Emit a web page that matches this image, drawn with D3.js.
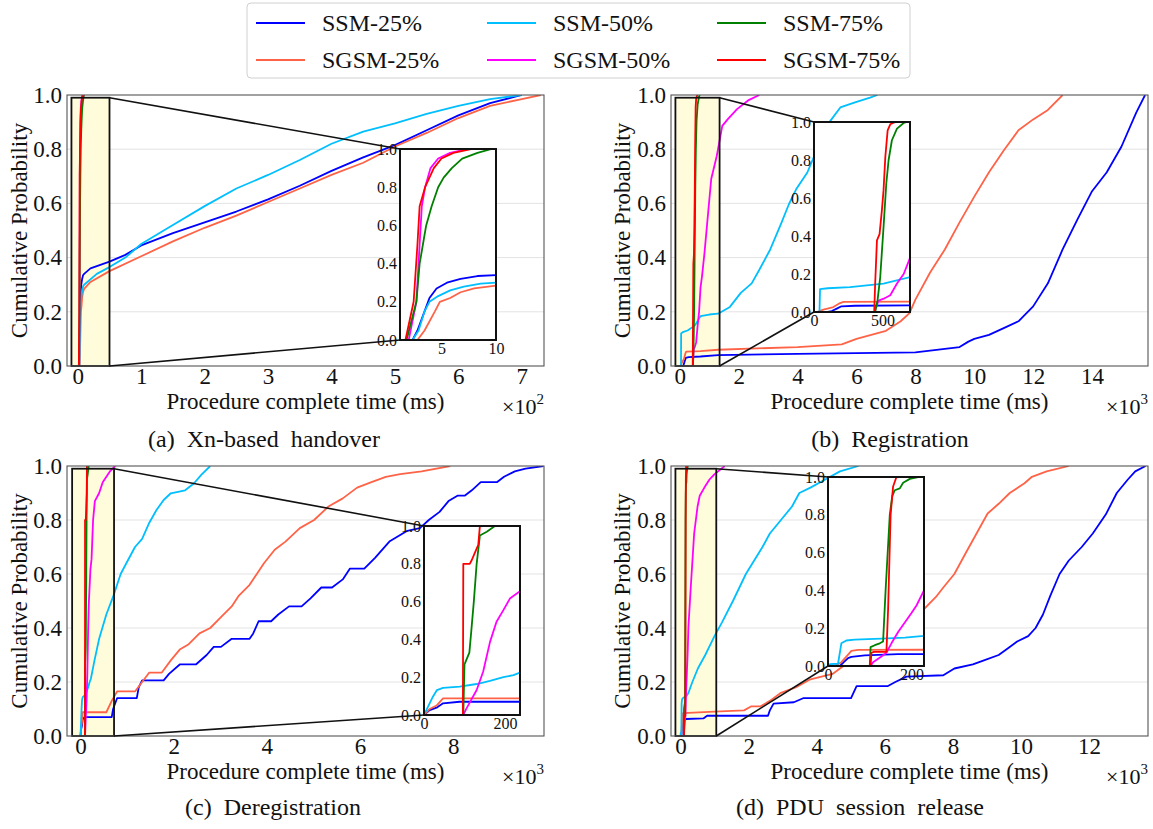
<!DOCTYPE html>
<html><head><meta charset="utf-8">
<script src="https://cdn.jsdelivr.net/npm/d3@7"></script>
</head><body style="margin:0;background:#fff">
<svg id="fig" width="1153" height="829" style="display:block;font-family:'Liberation Serif'"></svg>
<script>
// ---- series ----
const seriesNames = ["SSM-25%", "SSM-50%", "SSM-75%", "SGSM-25%", "SGSM-50%", "SGSM-75%"];
const seriesColors = ["#0000ff", "#00bfff", "#008000", "#ff6347", "#ff00ff", "#ff0000"];
const drawOrder = [0, 3, 1, 4, 2, 5];
const probTicks = [0, 0.2, 0.4, 0.6, 0.8, 1.0];

// ---- (a) Xn-based handover: [time ms, cumulative probability] ----
const aSSM25 = [[2.35,0],[2.8,0.05],[3.45,0.15],[3.9,0.22],[4.55,0.27],[5.5,0.3],[6.75,0.32],[8.3,0.335],[10,0.34],[20,0.36],[50,0.385],[75,0.41],[100,0.445],[150,0.49],[200,0.53],[250,0.57],[300,0.615],[350,0.665],[400,0.72],[450,0.77],[500,0.815],[550,0.87],[600,0.925],[650,0.97],[700,1.0]];
const aSSM50 = [[2.35,0],[2.9,0.05],[3.45,0.15],[3.9,0.2],[4.7,0.23],[5.8,0.26],[7.05,0.28],[8.6,0.295],[10,0.3],[30,0.34],[50,0.365],[75,0.4],[100,0.45],[150,0.52],[200,0.59],[250,0.655],[300,0.705],[350,0.76],[400,0.82],[450,0.865],[500,0.895],[550,0.93],[600,0.96],[650,0.985],[700,1.0]];
const aSSM75 = [[1.8,0],[2.7,0.2],[3.0,0.4],[3.3,0.5],[3.6,0.6],[4.1,0.7],[4.7,0.8],[5.2,0.85],[5.95,0.9],[6.9,0.95],[8.3,0.98],[9.6,1.0]];
const aSGSM25 = [[2.8,0],[3.45,0.05],[4.4,0.15],[4.85,0.2],[5.8,0.22],[6.75,0.25],[8,0.27],[10,0.285],[20,0.31],[50,0.35],[100,0.405],[150,0.46],[200,0.51],[250,0.555],[300,0.605],[350,0.655],[400,0.705],[450,0.75],[500,0.81],[550,0.86],[600,0.915],[650,0.96],[700,0.985],[730,1.0]];
const aSGSM50 = [[2.0,0],[2.7,0.2],[3.0,0.5],[3.2,0.7],[3.5,0.8],[4.0,0.9],[4.7,0.95],[5.8,0.98],[7.4,1.0],[10.5,1.0]];
const aSGSM75 = [[1.7,0],[2.45,0.2],[2.8,0.5],[3.0,0.7],[3.5,0.8],[4.3,0.9],[5.0,0.95],[6.1,0.98],[7.7,1.0],[10.5,1.0]];

// ---- (b) Registration ----
const bSSM25 = [[100,0],[130,0.005],[166,0.018],[200,0.03],[300,0.033],[700,0.035],[1300,0.04],[4000,0.045],[8000,0.05],[9500,0.07],[9800,0.09],[10000,0.1],[10500,0.115],[11000,0.14],[11500,0.165],[12000,0.22],[12500,0.305],[13000,0.43],[13500,0.54],[14000,0.645],[14500,0.715],[15000,0.81],[15500,0.935],[15800,1.0]];
const bSSM50 = [[40,0],[44,0.12],[100,0.125],[263,0.131],[507,0.149],[703,0.184],[1000,0.19],[1300,0.193],[1700,0.218],[2070,0.27],[2440,0.305],[2700,0.355],[3070,0.43],[3450,0.528],[3700,0.596],[3950,0.652],[4330,0.714],[4700,0.81],[5080,0.9],[5450,0.954],[5950,0.973],[6460,0.99],[6710,1.0]];
const bSSM75 = [[446,0],[463,0.06],[483,0.184],[507,0.447],[527,0.675],[544,0.8],[568,0.904],[605,0.965],[654,0.995],[678,1.0]];
const bSGSM25 = [[20,0],[68,0.012],[141,0.026],[190,0.047],[215,0.053],[700,0.055],[1300,0.06],[4000,0.07],[5500,0.08],[6000,0.1],[7000,0.13],[7500,0.165],[7800,0.195],[8000,0.245],[8500,0.345],[9000,0.43],[9500,0.53],[10000,0.625],[10500,0.715],[11000,0.795],[11500,0.87],[12000,0.91],[12500,0.945],[13000,1.0]];
const bSGSM50 = [[440,0],[446,0.012],[471,0.06],[508,0.07],[556,0.088],[605,0.15],[654,0.2],[703,0.29],[752,0.33],[840,0.42],[940,0.54],[1066,0.69],[1254,0.775],[1442,0.886],[1630,0.911],[1943,0.948],[2319,0.98],[2700,1.0]];
const bSGSM75 = [[439,0],[446,0.149],[459,0.377],[478,0.41],[495,0.535],[507,0.64],[520,0.816],[537,0.956],[556,0.988],[593,1.0]];

// ---- (c) Deregistration ----
const cSSM25 = [[0,0],[14,0.026],[31,0.039],[47,0.062],[88,0.07],[670,0.07],[700,0.1],[785,0.14],[1208,0.14],[1250,0.18],[1323,0.206],[1785,0.206],[1900,0.23],[2130,0.265],[2477,0.265],[2708,0.3],[2860,0.33],[3015,0.33],[3246,0.36],[3630,0.36],[3708,0.38],[3823,0.425],[4092,0.425],[4246,0.45],[4477,0.48],[4746,0.48],[4938,0.51],[5169,0.55],[5400,0.55],[5630,0.58],[5785,0.62],[6092,0.62],[6323,0.66],[6630,0.72],[7015,0.76],[7285,0.77],[7477,0.8],[7708,0.83],[7900,0.87],[8092,0.89],[8246,0.89],[8400,0.91],[8592,0.94],[8938,0.94],[9092,0.96],[9323,0.98],[9554,0.99],[9938,1.0]];
const cSSM50 = [[0,0],[10,0.044],[22,0.097],[32,0.132],[47,0.144],[88,0.15],[130,0.164],[163,0.18],[196,0.2],[221,0.211],[237,0.225],[300,0.28],[400,0.36],[554,0.45],[708,0.52],[862,0.6],[1015,0.65],[1170,0.7],[1323,0.73],[1477,0.79],[1631,0.837],[1785,0.874],[1938,0.899],[2246,0.91],[2438,0.936],[2592,0.967],[2785,1.0]];
const cSSM75 = [[97,0],[100,0.27],[101,0.273],[112,0.33],[117,0.45],[123,0.6],[130,0.8],[138,0.95],[155,0.97],[175,1.0]];
const cSGSM25 = [[0,0],[14,0.032],[31,0.05],[47,0.088],[554,0.088],[670,0.13],[785,0.165],[1170,0.165],[1323,0.2],[1477,0.235],[1746,0.235],[1938,0.28],[2130,0.32],[2323,0.34],[2554,0.38],[2785,0.4],[3015,0.44],[3246,0.48],[3400,0.52],[3630,0.56],[3785,0.6],[3938,0.64],[4169,0.69],[4400,0.72],[4708,0.77],[5015,0.8],[5323,0.85],[5630,0.88],[5938,0.92],[6246,0.94],[6554,0.96],[6862,0.97],[7323,0.98],[7938,1.0]];
const cSGSM50 = [[97,0],[105,0.035],[130,0.132],[146,0.229],[163,0.387],[179,0.493],[196,0.555],[212,0.616],[237,0.655],[270,0.8],[308,0.87],[400,0.9],[477,0.94],[630,0.98],[746,1.0]];
const cSGSM75 = [[96,0],[97,0.8],[113,0.8],[118,0.82],[126,0.86],[134,0.9],[138,1.0]];

// ---- (d) PDU session release ----
const dSSM25 = [[28,0],[36,0.016],[48,0.042],[56,0.048],[88,0.056],[168,0.063],[672,0.065],[780,0.075],[2569,0.075],[2623,0.095],[2732,0.12],[3328,0.125],[3600,0.14],[5008,0.14],[5171,0.185],[6092,0.185],[6309,0.2],[6634,0.22],[7718,0.225],[8043,0.25],[8586,0.265],[8911,0.28],[9344,0.3],[9669,0.33],[9886,0.35],[10211,0.37],[10428,0.4],[10645,0.45],[10862,0.52],[11133,0.6],[11404,0.65],[11783,0.7],[12108,0.75],[12488,0.82],[12813,0.9],[13138,0.95],[13355,0.98],[13659,1.0]];
const dSSM50 = [[0,0],[5,0.01],[24,0.012],[32,0.12],[44,0.135],[64,0.14],[128,0.145],[184,0.15],[230,0.159],[347,0.2],[509,0.25],[726,0.3],[997,0.37],[1214,0.42],[1539,0.5],[1919,0.6],[2407,0.7],[2623,0.75],[2949,0.8],[3274,0.85],[3490,0.9],[3816,0.92],[4249,0.95],[4683,0.98],[5225,1.0]];
const dSSM75 = [[100,0],[102,0.1],[112,0.11],[124,0.12],[132,0.13],[138,0.4],[148,0.8],[154,0.9],[160,0.93],[172,0.94],[180,0.97],[196,0.99],[216,1.0]];
const dSGSM25 = [[16,0],[32,0.02],[44,0.05],[56,0.08],[72,0.085],[997,0.09],[1865,0.095],[2081,0.11],[2352,0.11],[2623,0.13],[2949,0.16],[3382,0.18],[3816,0.21],[4466,0.23],[4900,0.27],[5225,0.3],[6000,0.36],[6500,0.41],[7122,0.466],[7501,0.515],[7718,0.55],[8043,0.6],[8369,0.676],[8694,0.75],[9019,0.824],[9344,0.86],[9669,0.9],[10103,0.936],[10320,0.96],[10753,0.98],[11404,1.0]];
const dSGSM50 = [[102,0],[108,0.02],[128,0.05],[140,0.07],[152,0.12],[168,0.18],[184,0.23],[200,0.28],[212,0.32],[230,0.4],[300,0.55],[400,0.75],[500,0.85],[564,0.89],[700,0.92],[850,0.95],[1000,0.97],[1300,1.0]];
const dSGSM75 = [[102,0],[104,0.07],[110,0.075],[140,0.075],[144,0.3],[150,0.8],[156,0.95],[164,1.0]];

// ---- tick values ----
const handoverTicks = [0, 100, 200, 300, 400, 500, 600, 700];
const registrationTicks = [0, 2000, 4000, 6000, 8000, 10000, 12000, 14000];
const deregistrationTicks = [0, 2000, 4000, 6000, 8000];
const pduReleaseTicks = [0, 2000, 4000, 6000, 8000, 10000, 12000];
const handoverInsetTicks = [5, 10];
const registrationInsetTicks = [0, 500];
const deregistrationInsetTicks = [0, 200];
const pduReleaseInsetTicks = [0, 200];

const captions = ["(a) Xn-based handover", "(b) Registration", "(c) Deregistration", "(d) PDU session release"];

// ---- layout ----
const panels = [
  {id: "a", data: [aSSM25, aSSM50, aSSM75, aSGSM25, aSGSM50, aSGSM75],
   x0: 67, x1: 544, y0: 95, y1: 366, xDomain: [-17, 735], ticks: handoverTicks, unit: 100, exp: "2",
   zoomBox: [-10, 50],
   inset: {x0: 400, x1: 496, y0: 149, y1: 340, xDomain: [1.2, 10], ticks: handoverInsetTicks},
   caption: captions[0], capX: 264, capY: 447, yLabX: 19},
  {id: "b", data: [bSSM25, bSSM50, bSSM75, bSGSM25, bSGSM50, bSGSM75],
   x0: 671, x1: 1148, y0: 95, y1: 366, xDomain: [-300, 15900], ticks: registrationTicks, unit: 1000, exp: "3",
   zoomBox: [-150, 1350],
   inset: {x0: 814, x1: 910, y0: 122, y1: 312, xDomain: [0, 700], ticks: registrationInsetTicks},
   caption: captions[1], capX: 890, capY: 447, yLabX: 622},
  {id: "c", data: [cSSM25, cSSM50, cSSM75, cSGSM25, cSGSM50, cSGSM75],
   x0: 67, x1: 544, y0: 466, y1: 736, xDomain: [-290, 9950], ticks: deregistrationTicks, unit: 1000, exp: "3",
   zoomBox: [-180, 720],
   inset: {x0: 424, x1: 520, y0: 526, y1: 715, xDomain: [0, 237], ticks: deregistrationInsetTicks},
   caption: captions[2], capX: 273, capY: 815, yLabX: 19},
  {id: "d", data: [dSSM25, dSSM50, dSSM75, dSGSM25, dSGSM50, dSGSM75],
   x0: 671, x1: 1148, y0: 466, y1: 736, xDomain: [-280, 13730], ticks: pduReleaseTicks, unit: 1000, exp: "3",
   zoomBox: [-150, 1050],
   inset: {x0: 828, x1: 924, y0: 477, y1: 666, xDomain: [0, 230], ticks: pduReleaseInsetTicks},
   caption: captions[3], capX: 860, capY: 815, yLabX: 622}
];

const svg = d3.select("#fig");
svg.append("rect").attr("width", 1153).attr("height", 829).attr("fill", "#fff");
const defs = svg.append("defs");

function txt(sel, size) {
  return sel.attr("font-family", "Liberation Serif").attr("font-size", size).attr("fill", "#111");
}

function drawCurves(g, data, x, y, clipId) {
  const line = d3.line().x(d => x(d[0])).y(d => y(d[1]));
  const cg = g.append("g").attr("clip-path", `url(#${clipId})`);
  drawOrder.forEach(i => {
    cg.append("path").datum(data[i])
      .attr("d", line)
      .attr("fill", "none")
      .attr("stroke", seriesColors[i])
      .attr("stroke-width", 1.8)
      .attr("stroke-linejoin", "round");
  });
}

function styleAxis(a, size) {
  a.select(".domain").remove();
  a.attr("font-family", "Liberation Serif").attr("font-size", size);
  a.selectAll("text").attr("fill", "#111");
}

function drawPanel(p) {
  const g = svg.append("g");
  const x = d3.scaleLinear().domain(p.xDomain).range([p.x0, p.x1]);
  const y = d3.scaleLinear().domain([0, 1]).range([p.y1, p.y0]);

  defs.append("clipPath").attr("id", "clip-" + p.id).append("rect")
    .attr("x", p.x0).attr("y", p.y0).attr("width", p.x1 - p.x0).attr("height", p.y1 - p.y0);

  // horizontal grid
  g.selectAll("line.grid").data(probTicks.slice(1, -1)).join("line")
    .attr("x1", p.x0).attr("x2", p.x1)
    .attr("y1", d => y(d)).attr("y2", d => y(d))
    .attr("stroke", "#e3e3e3").attr("stroke-width", 1);

  // highlighted zoom region
  const zx0 = x(p.zoomBox[0]), zx1 = x(p.zoomBox[1]);
  const zy0 = y(0.99), zy1 = y(0);
  g.append("rect").attr("x", zx0).attr("y", zy0).attr("width", zx1 - zx0).attr("height", zy1 - zy0)
    .attr("fill", "#fffcdc");

  drawCurves(g, p.data, x, y, "clip-" + p.id);

  g.append("rect").attr("x", zx0).attr("y", zy0).attr("width", zx1 - zx0).attr("height", zy1 - zy0)
    .attr("fill", "none").attr("stroke", "#111").attr("stroke-width", 1.8);

  // frame
  g.append("rect").attr("x", p.x0).attr("y", p.y0).attr("width", p.x1 - p.x0).attr("height", p.y1 - p.y0)
    .attr("fill", "none").attr("stroke", "#555").attr("stroke-width", 1.1);

  // axes
  const ax = g.append("g").attr("transform", `translate(0,${p.y1})`)
    .call(d3.axisBottom(x).tickValues(p.ticks).tickFormat(d => d / p.unit).tickSize(0).tickPadding(2));
  const ay = g.append("g").attr("transform", `translate(${p.x0},0)`)
    .call(d3.axisLeft(y).tickValues(probTicks).tickFormat(d3.format(".1f")).tickSize(0).tickPadding(5));
  styleAxis(ax, 23);
  styleAxis(ay, 23);

  // labels
  txt(g.append("text"), 23).attr("x", (p.x0 + p.x1) / 2).attr("y", p.y1 + 43)
    .attr("text-anchor", "middle")
    .text("Procedure complete time (ms)");
  const ex = txt(g.append("text"), 22).attr("x", p.x1).attr("y", p.y1 + 48)
    .attr("text-anchor", "end");
  ex.append("tspan").text("\u00d710");
  ex.append("tspan").attr("font-size", 15).attr("dy", -10).text(p.exp);

  txt(g.append("text"), 23).attr("transform", `translate(${p.yLabX + 8},${(p.y0 + p.y1) / 2}) rotate(-90)`)
    .attr("text-anchor", "middle")
    .text("Cumulative Probability");

  txt(g.append("text"), 24).attr("x", p.capX).attr("y", p.capY).attr("text-anchor", "middle")
    .attr("word-spacing", 6).text(p.caption);

  // connectors from zoom region to inset
  const ins = p.inset;
  g.append("line").attr("x1", zx1).attr("y1", zy0).attr("x2", ins.x0).attr("y2", ins.y0)
    .attr("stroke", "#111").attr("stroke-width", 1.6);
  g.append("line").attr("x1", zx1).attr("y1", zy1).attr("x2", ins.x0).attr("y2", ins.y1)
    .attr("stroke", "#111").attr("stroke-width", 1.6);

  // inset
  const ix = d3.scaleLinear().domain(ins.xDomain).range([ins.x0, ins.x1]);
  const iy = d3.scaleLinear().domain([0, 1]).range([ins.y1, ins.y0]);
  const ig = g.append("g");
  ig.append("rect").attr("x", ins.x0).attr("y", ins.y0).attr("width", ins.x1 - ins.x0).attr("height", ins.y1 - ins.y0)
    .attr("fill", "#fff");
  defs.append("clipPath").attr("id", "iclip-" + p.id).append("rect")
    .attr("x", ins.x0).attr("y", ins.y0).attr("width", ins.x1 - ins.x0).attr("height", ins.y1 - ins.y0);
  drawCurves(ig, p.data, ix, iy, "iclip-" + p.id);
  ig.append("rect").attr("x", ins.x0).attr("y", ins.y0).attr("width", ins.x1 - ins.x0).attr("height", ins.y1 - ins.y0)
    .attr("fill", "none").attr("stroke", "#111").attr("stroke-width", 2);
  const iax = ig.append("g").attr("transform", `translate(0,${ins.y1})`)
    .call(d3.axisBottom(ix).tickValues(ins.ticks).tickFormat(d3.format("d")).tickSize(0).tickPadding(3));
  const iay = ig.append("g").attr("transform", `translate(${ins.x0},0)`)
    .call(d3.axisLeft(iy).tickValues(probTicks).tickFormat(d3.format(".1f")).tickSize(0).tickPadding(3));
  styleAxis(iax, 16);
  styleAxis(iay, 16);
}

panels.forEach(drawPanel);

// ---- legend ----
const lg = svg.append("g");
lg.append("rect").attr("x", 247).attr("y", 3).attr("width", 663).attr("height", 75).attr("rx", 4)
  .attr("fill", "#fff").attr("stroke", "#d0d0d0").attr("stroke-width", 1);
const legendCols = [256, 487, 717];
const legendRows = [23, 60];
seriesNames.forEach((name, i) => {
  const cx = legendCols[i % 3], cy = legendRows[Math.floor(i / 3)];
  lg.append("line").attr("x1", cx).attr("x2", cx + 49).attr("y1", cy).attr("y2", cy)
    .attr("stroke", seriesColors[i]).attr("stroke-width", 2);
  txt(lg.append("text"), 24).attr("x", cx + 66).attr("y", cy + 8).text(name);
});
</script>
</body></html>
